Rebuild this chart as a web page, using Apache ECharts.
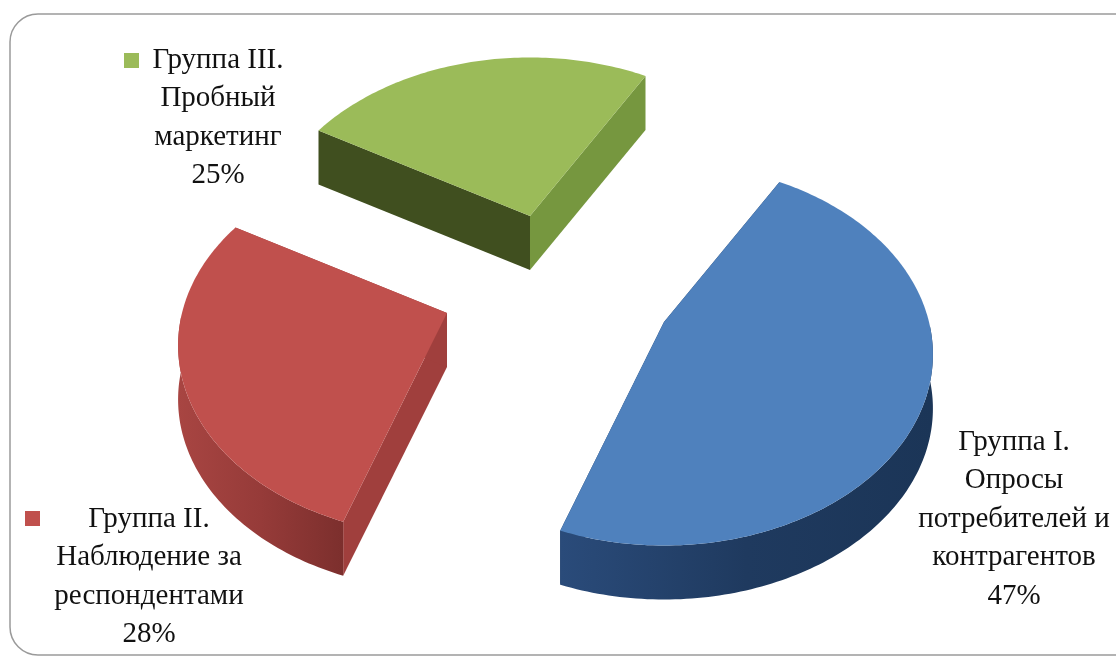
<!DOCTYPE html>
<html><head><meta charset="utf-8">
<style>html,body{margin:0;padding:0;background:#fff}#c{width:1116px;height:657px}</style>
<script src="https://cdn.jsdelivr.net/npm/echarts@6/dist/echarts.min.js"></script>
</head><body><div id="c"></div>
<script>
var categories = ['Группа I.\nОпросы\nпотребителей и\nконтрагентов', 'Группа II.\nНаблюдение за\nреспондентами', 'Группа III.\nПробный\nмаркетинг'];
var shares = [47, 28, 25];
var apexX = [664, 447, 530];
var apexY = [322, 313, 216];
var labelX = [1014, 149, 218];
var labelY = [519, 577, 118];
var keyX = [null, 25, 124];
var keyY = [null, 511, 53];
var topColors = ['#4f81bd', '#c0504d', '#9bbb59'];
var rimStops = [['#2a4b7a', '#1f3a5f', '#1b3557'], ['#a84542', '#963b39', '#7c2f2d'], ['#5d7a2e', '#5d7a2e', '#5d7a2e']];
var firstWall = ['#1f3a5f', '#a03f3d', '#404f1f'];
var lastWall = ['#1f3a5f', '#a03f3d', '#76973f'];

var R = 265, K = 0.70, P = 0.17, DEPTH = 54, START = 30;
var total = shares.reduce(function (a, b) { return a + b; }, 0);

function proj(cx, cy, deg) {
  var t = deg * Math.PI / 180, u = Math.sin(t), v = -Math.cos(t), w = 1 / (1 - P * v);
  return [cx + R * u * w, cy + R * K * v * w];
}
function grad(stops) {
  return { type: 'linear', x: 0, y: 0, x2: 1, y2: 0, colorStops: stops.map(function (c, i) { return { offset: i / (stops.length - 1), color: c }; }) };
}
function down(p) { return [p[0], p[1] + DEPTH]; }

function renderItem(params, api) {
  var i = params.dataIndex, before = 0;
  for (var j = 0; j < i; j++) before += shares[j];
  var a0 = START + before / total * 360, a1 = a0 + api.value(0) / total * 360;
  var cx = apexX[i], cy = apexY[i], arc = [], front = [];
  for (var d = a0; d <= a1 + 1; d += 1) {
    var a = Math.min(d, a1), p = proj(cx, cy, a);
    arc.push(p);
    if (Math.cos(a * Math.PI / 180) <= 0) front.push(p);
  }
  var apex = [cx, cy], first = arc[0], last = arc[arc.length - 1], children = [];
  function poly(pts, fill) {
    children.push({ type: 'polygon', shape: { points: pts }, style: { fill: fill, stroke: null } });
  }
  poly([apex, first, down(first), down(apex)], firstWall[i]);
  poly([apex, last, down(last), down(apex)], lastWall[i]);
  if (front.length > 1) poly(front.concat(front.map(down).reverse()), grad(rimStops[i]));
  poly([apex].concat(arc), topColors[i]);
  children.push({
    type: 'text', x: labelX[i], y: labelY[i],
    style: {
      text: categories[i] + '\n' + api.value(0) + '%',
      fill: '#111', font: '29px "Liberation Serif"', lineHeight: 38.5,
      textAlign: 'center', textVerticalAlign: 'middle'
    }
  });
  if (keyX[i] !== null) {
    children.push({ type: 'rect', shape: { x: keyX[i], y: keyY[i], width: 15, height: 15 }, style: { fill: topColors[i] } });
  }
  return { type: 'group', children: children };
}

var chart = echarts.init(document.getElementById('c'), null, { renderer: 'canvas' });
chart.setOption({
  animation: false,
  backgroundColor: '#fff',
  graphic: [{
    type: 'rect', z: -1,
    shape: { x: 10, y: 14, width: 1140, height: 641, r: 28 },
    style: { fill: '#fff', stroke: '#9a9a9a', lineWidth: 1.5 }
  }],
  series: [{
    type: 'custom',
    coordinateSystem: 'none',
    renderItem: renderItem,
    data: shares.map(function (v) { return [v]; })
  }]
});
</script></body></html>
